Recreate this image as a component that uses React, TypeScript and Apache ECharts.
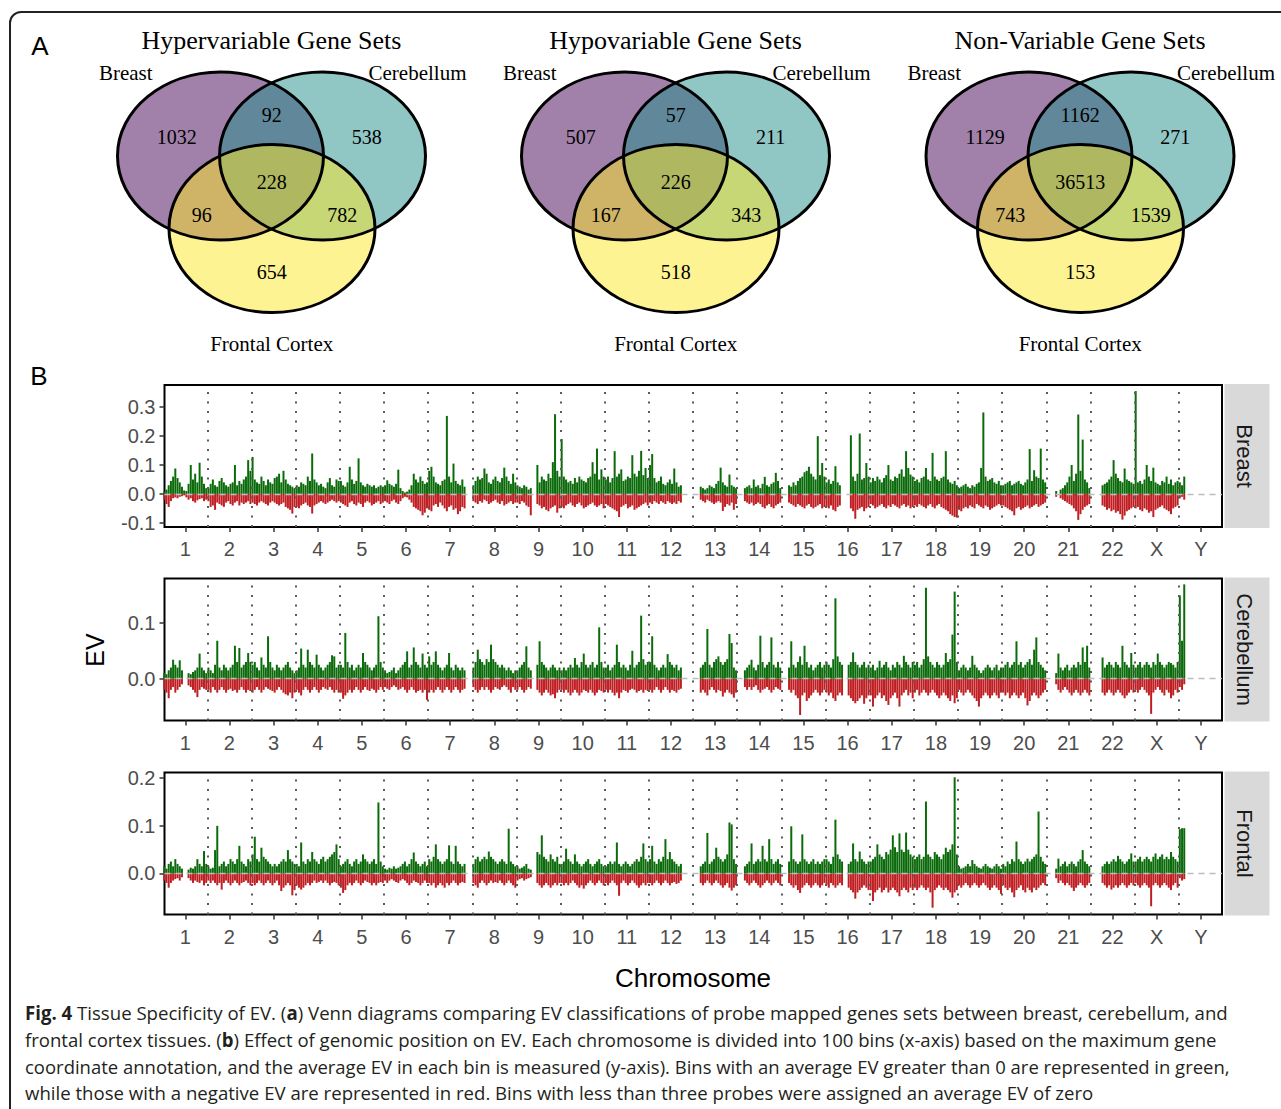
import React, { useEffect, useRef } from "react";
import * as echarts from "echarts";

// ---------------- DATA ----------------
const chromosomes = ["1","2","3","4","5","6","7","8","9","10","11","12","13","14","15","16","17","18","19","20","21","22","X","Y"];
const chromCenters = chromosomes.map((_, i) => i * 100 + 50);
const chromBounds = chromosomes.slice(1).map((_, i) => (i + 1) * 100);

const breastTicks = [-0.1, 0, 0.1, 0.2, 0.3];
const cerebellumTicks = [0, 0.1];
const frontalTicks = [0, 0.1, 0.2];

const vennTitles = ["Hypervariable Gene Sets", "Hypovariable Gene Sets", "Non-Variable Gene Sets"];
const vennSetNames = ["Breast", "Cerebellum", "Frontal Cortex"];
// region order: Breast only, Breast∩Cerebellum, Cerebellum only, all three, Breast∩Frontal, Cerebellum∩Frontal, Frontal only
const hyperCounts = [1032, 92, 538, 228, 96, 782, 654];
const hypoCounts = [507, 57, 211, 226, 167, 343, 518];
const nonVarCounts = [1129, 1162, 271, 36513, 743, 1539, 153];

// Average EV per bin (in thousandths), 20 bins per chromosome: highest positive (green) and lowest negative (red)
const breastGreen = [
  [8,15,30,45,60,88,55,40,25,12,10,35,100,50,70,40,108,60,35,20],
  [20,35,50,30,25,45,55,40,30,25,35,40,100,30,45,35,50,60,117,80],
  [128,50,40,35,60,45,30,50,40,35,55,60,70,40,80,50,35,30,25,20],
  [30,25,40,35,30,60,45,140,50,40,30,35,25,20,40,55,30,25,50,45],
  [45,30,25,40,94,50,35,45,123,40,30,25,35,30,25,30,20,25,30,25],
  [30,47,35,30,25,35,84,20,10,5,8,15,30,70,50,40,60,45,35,40],
  [80,94,60,40,35,30,45,50,270,60,40,105,45,35,30,50,25,0,0,0],
  [30,45,60,50,55,88,70,40,35,50,60,45,40,55,91,60,45,35,70,40],
  [30,25,20,30,25,15,20,0,0,100,40,60,50,45,70,55,110,276,80,60],
  [190,60,50,40,45,35,55,40,60,50,45,40,55,60,110,70,157,50,85,60],
  [50,60,40,55,148,60,70,85,45,50,60,55,134,70,60,80,149,65,90,55],
  [100,138,55,40,45,60,35,30,40,50,35,88,40,25,30,0,0,0,0,0],
  [0,0,0,25,20,15,20,30,25,20,35,45,91,40,30,25,67,30,25,20],
  [0,0,0,20,25,30,20,50,25,30,20,35,59,30,25,35,40,73,45,20],
  [0,0,0,30,25,40,30,45,55,60,75,80,94,70,60,50,200,65,107,60],
  [40,50,35,45,96,40,30,0,0,0,0,203,60,45,70,209,50,55,107,60],
  [40,55,45,60,50,40,55,65,100,50,45,60,55,70,85,60,148,90,67,60],
  [45,50,40,55,60,90,50,45,142,60,50,45,55,60,148,50,40,35,45,30],
  [20,25,30,35,25,20,30,25,35,40,90,282,60,45,50,55,40,35,45,30],
  [30,35,40,45,30,35,40,45,35,30,40,50,155,45,82,60,55,157,50,40],
  [0,0,0,0,10,0,15,20,30,40,60,100,45,70,275,80,188,50,40,20],
  [0,0,0,0,0,30,35,40,50,60,117,70,55,45,40,88,50,45,40,35],
  [356,40,45,35,50,100,60,45,91,40,35,30,45,40,60,35,50,30,40,45],
  [40,30,60],
];
const breastRed = [
  [-20,-35,-45,-25,-15,-12,-15,-10,-8,-5,-12,-20,-15,-25,-30,-22,-18,-15,-25,-20],
  [-25,-45,-40,-55,-30,-35,-40,-45,-30,-25,-35,-40,-30,-25,-40,-30,-35,-30,-25,-35],
  [-30,-35,-40,-30,-25,-30,-35,-40,-30,-25,-30,-35,-40,-35,-30,-45,-50,-55,-68,-45],
  [-45,-50,-40,-35,-30,-40,-45,-68,-40,-35,-30,-25,-30,-35,-30,-25,-20,-25,-30,-25],
  [-30,-35,-40,-45,-30,-25,-35,-40,-30,-35,-45,-30,-25,-30,-40,-35,-30,-25,-35,-30],
  [-25,-30,-35,-25,-20,-30,-35,-25,-15,-10,-12,-20,-30,-45,-50,-55,-60,-74,-65,-50],
  [-55,-60,-40,-35,-45,-30,-40,-50,-60,-45,-40,-55,-50,-70,-60,-45,-50,0,0,0],
  [-25,-30,-35,-25,-30,-20,-25,-35,-30,-25,-20,-30,-35,-25,-40,-35,-30,-25,-35,-30],
  [-30,-35,-25,-30,-40,-45,-74,0,0,-35,-40,-50,-45,-55,-60,-50,-45,-40,-65,-50],
  [-45,-50,-40,-35,-30,-40,-45,-35,-30,-40,-50,-45,-40,-35,-30,-40,-45,-40,-35,-50],
  [-35,-40,-45,-50,-55,-60,-80,-45,-40,-35,-50,-45,-40,-55,-50,-45,-40,-35,-30,-40],
  [-30,-35,-25,-30,-35,-25,-30,-35,-25,-30,-35,-30,-35,-25,-30,0,0,0,0,0],
  [0,0,0,-20,-25,-30,-20,-25,-30,-35,-30,-25,-30,-59,-45,-35,-40,-30,-55,-35],
  [0,0,0,-25,-30,-35,-30,-40,-35,-30,-35,-45,-50,-40,-35,-45,-50,-40,-35,-30],
  [0,0,0,-30,-35,-40,-45,-35,-40,-45,-50,-40,-35,-45,-50,-45,-40,-35,-50,-45],
  [-45,-50,-40,-55,-60,-45,-40,0,0,0,0,-50,-60,-86,-55,-50,-45,-60,-50,-45],
  [-35,-40,-50,-45,-40,-35,-45,-50,-40,-45,-35,-40,-45,-50,-40,-35,-45,-40,-50,-45],
  [-40,-45,-35,-40,-45,-50,-40,-35,-45,-50,-40,-35,-45,-50,-55,-60,-70,-75,-80,-82],
  [-55,-60,-50,-45,-50,-40,-45,-50,-35,-40,-45,-50,-40,-45,-55,-50,-45,-40,-35,-40],
  [-40,-45,-50,-55,-60,-74,-50,-45,-55,-50,-45,-40,-50,-45,-40,-35,-45,-40,-35,-30],
  [0,0,0,0,-10,0,-15,-20,-25,-30,-35,-40,-50,-60,-90,-70,-55,-45,-40,-35],
  [0,0,0,0,0,-40,-45,-55,-50,-60,-55,-65,-60,-70,-89,-75,-60,-55,-50,-45],
  [-50,-45,-55,-60,-50,-55,-65,-60,-80,-55,-50,-45,-40,-50,-55,-60,-70,-50,-45,-40],
  [-15,-10,-20],
];

const cerebellumGreen = [
  [10,8,15,20,34,25,20,33,15,0,0,10,8,12,15,20,45,20,15,10],
  [20,15,10,25,68,20,15,25,20,15,20,25,59,30,55,20,25,30,46,30],
  [25,30,20,15,38,25,20,76,30,20,15,25,20,15,20,25,30,20,15,10],
  [15,20,54,25,20,52,30,25,20,43,25,20,15,20,25,30,42,40,20,25],
  [25,20,82,30,20,25,15,20,25,20,46,30,25,20,15,20,25,112,30,20],
  [15,10,12,15,20,10,15,20,25,30,49,20,25,56,30,25,20,45,25,20],
  [40,25,30,49,25,20,15,20,25,46,20,15,25,20,15,20,15,0,0,0],
  [20,30,52,35,30,25,35,30,61,35,30,25,20,25,20,15,20,15,10,15],
  [15,20,25,30,58,20,15,0,0,25,67,30,25,20,15,20,25,20,15,20],
  [15,20,15,20,25,20,37,25,20,30,45,25,20,25,30,20,25,92,30,20],
  [20,25,15,20,25,61,30,20,25,20,15,25,50,20,25,30,113,35,25,30],
  [30,76,25,20,15,20,25,20,44,30,25,20,25,15,20,0,0,0,0,0],
  [0,0,0,20,25,30,89,25,20,30,35,40,30,25,30,35,80,64,20,15],
  [0,0,0,15,20,25,34,20,15,25,77,30,20,25,30,74,25,20,30,20],
  [0,0,0,20,67,25,20,30,40,25,59,30,20,25,15,20,25,30,20,25],
  [30,25,20,35,144,40,30,25,0,0,25,30,47,30,25,20,25,30,20,25],
  [20,25,15,20,32,20,25,30,20,15,25,20,30,25,20,41,30,25,20,30],
  [25,30,20,25,35,163,40,30,25,20,30,25,20,25,46,30,35,79,156,30],
  [15,20,25,20,15,20,41,25,20,15,10,15,20,25,20,15,20,25,15,20],
  [20,25,30,20,25,30,67,25,30,20,25,30,35,25,52,74,30,25,20,15],
  [0,0,0,0,10,45,20,15,20,25,15,20,25,20,30,25,56,30,59,20],
  [0,0,0,0,0,38,20,25,30,25,20,30,25,20,59,30,25,20,46,25],
  [20,25,30,20,25,30,25,20,30,25,45,30,25,20,25,30,28,25,20,30],
  [149,68,169],
];
const cerebellumRed = [
  [-20,-25,-35,-20,-15,-25,-20,-15,-10,0,0,-12,-15,-20,-25,-33,-20,-15,-18,-20],
  [-20,-25,-15,-20,-25,-20,-15,-20,-25,-20,-18,-22,-20,-25,-20,-15,-20,-25,-20,-22],
  [-25,-20,-15,-20,-25,-20,-15,-18,-20,-22,-25,-20,-15,-20,-25,-28,-30,-25,-35,-25],
  [-20,-25,-30,-20,-15,-20,-25,-20,-15,-20,-25,-20,-15,-18,-20,-15,-20,-25,-20,-25],
  [-25,-36,-30,-25,-20,-25,-20,-15,-20,-25,-20,-15,-20,-22,-18,-20,-25,-20,-15,-20],
  [-15,-18,-20,-15,-12,-15,-20,-18,-15,-20,-25,-20,-15,-20,-25,-22,-20,-25,-20,-38],
  [-25,-20,-25,-20,-15,-20,-25,-20,-15,-20,-25,-20,-15,-20,-25,-20,-18,0,0,0],
  [-15,-20,-25,-20,-15,-20,-15,-20,-25,-20,-15,-18,-20,-15,-12,-15,-20,-25,-15,-20],
  [-20,-15,-20,-25,-20,-15,-18,0,0,-20,-25,-30,-25,-20,-25,-30,-28,-35,-25,-20],
  [-20,-25,-20,-25,-30,-25,-20,-25,-30,-25,-20,-22,-25,-20,-25,-30,-25,-20,-22,-25],
  [-20,-25,-20,-25,-30,-25,-35,-25,-20,-22,-25,-20,-18,-20,-25,-22,-20,-25,-20,-22],
  [-20,-25,-20,-15,-20,-25,-20,-15,-20,-25,-20,-22,-25,-20,-18,0,0,0,0,0],
  [0,0,0,-25,-20,-25,-30,-20,-15,-20,-25,-20,-22,-32,-25,-20,-25,-28,-34,-25],
  [0,0,0,-15,-20,-15,-20,-15,-12,-20,-25,-20,-18,-15,-20,-25,-20,-15,-18,-20],
  [0,0,0,-20,-25,-20,-30,-35,-65,-30,-25,-40,-35,-30,-25,-20,-25,-30,-25,-20],
  [-25,-30,-25,-35,-40,-30,-25,-30,0,0,-30,-35,-40,-44,-40,-35,-30,-45,-35,-30],
  [-30,-50,-35,-30,-25,-35,-30,-40,-47,-35,-30,-25,-35,-50,-30,-25,-20,-30,-25,-35],
  [-25,-20,-30,-25,-20,-25,-30,-25,-20,-25,-30,-35,-30,-25,-30,-35,-40,-30,-44,-35],
  [-20,-25,-30,-25,-20,-25,-30,-35,-40,-50,-35,-30,-25,-30,-35,-30,-25,-30,-35,-25],
  [-25,-30,-25,-35,-30,-25,-30,-35,-30,-25,-35,-48,-40,-30,-25,-30,-35,-30,-25,-20],
  [0,0,0,0,-10,-20,-25,-20,-15,-20,-25,-30,-25,-20,-25,-30,-25,-20,-25,-30],
  [0,0,0,0,0,-25,-30,-25,-20,-25,-30,-25,-20,-25,-30,-35,-30,-25,-20,-25],
  [-20,-25,-20,-15,-20,-25,-30,-63,-25,-20,-15,-20,-25,-30,-20,-25,-35,-30,-20,-25],
  [-15,-20,-10],
];

const frontalGreen = [
  [15,10,20,25,15,30,20,15,10,0,0,8,12,10,15,30,20,15,47,20],
  [15,10,12,49,100,15,20,25,15,20,30,25,20,30,58,25,20,15,30,25],
  [40,77,30,25,54,35,30,25,20,15,20,15,20,25,30,25,49,30,25,20],
  [20,15,65,25,20,30,25,45,30,25,20,30,35,25,30,35,40,45,61,30],
  [15,20,25,30,20,15,25,30,20,25,40,30,25,20,25,30,20,149,25,15],
  [10,8,12,10,15,10,12,15,20,25,15,20,30,44,25,20,15,20,25,15],
  [30,25,35,61,30,25,20,25,30,59,25,20,58,25,20,15,20,0,0,0],
  [20,30,35,25,30,35,30,46,35,30,25,20,25,30,25,20,94,25,20,15],
  [15,10,12,15,20,10,8,0,0,45,40,80,35,30,25,40,30,25,35,20],
  [20,25,52,30,25,20,40,25,20,15,20,25,30,20,15,20,25,30,20,15],
  [15,20,25,20,25,65,20,15,20,25,20,15,20,25,30,25,35,63,30,25],
  [30,58,25,20,30,25,35,72,30,45,30,25,20,15,20,0,0,0,0,0],
  [0,0,0,15,20,25,85,20,25,30,54,35,30,25,30,40,107,103,30,20],
  [0,0,0,15,20,25,63,20,25,30,25,58,30,25,72,30,20,25,30,20],
  [0,0,0,25,99,30,25,20,25,82,30,25,20,25,30,20,25,20,25,30],
  [30,25,20,35,113,40,30,25,0,0,20,25,63,30,25,46,30,25,20,25],
  [25,30,35,61,40,35,30,45,40,50,80,55,45,84,50,45,86,50,40,35],
  [30,35,40,30,35,151,40,35,30,45,40,35,30,40,54,45,50,61,202,40],
  [15,10,12,15,20,15,28,20,15,12,10,15,20,15,12,10,15,20,15,10],
  [20,15,25,20,30,25,67,30,25,20,25,31,25,30,35,40,130,35,25,20],
  [0,0,0,0,10,31,15,20,25,15,20,25,20,15,25,30,49,25,20,15],
  [0,0,0,0,0,15,20,25,20,25,30,25,37,30,25,20,25,30,42,25],
  [25,30,35,25,30,35,30,25,35,42,30,35,40,30,35,30,45,35,30,25],
  [93,95,95],
];
const frontalRed = [
  [-15,-20,-30,-20,-15,-12,-10,-15,-8,0,0,-10,-15,-20,-15,-18,-20,-15,-25,-20],
  [-15,-20,-15,-20,-25,-20,-34,-20,-15,-20,-25,-20,-15,-20,-25,-20,-18,-15,-20,-25],
  [-20,-25,-20,-15,-20,-25,-20,-15,-20,-25,-20,-15,-25,-37,-30,-25,-20,-25,-46,-35],
  [-25,-30,-34,-30,-25,-20,-25,-20,-15,-20,-18,-15,-20,-15,-20,-25,-20,-18,-20,-25],
  [-30,-41,-35,-25,-20,-25,-20,-15,-20,-25,-20,-15,-18,-20,-25,-20,-25,-20,-18,-20],
  [-15,-20,-15,-12,-15,-18,-20,-15,-12,-15,-20,-25,-20,-15,-18,-20,-25,-20,-15,-20],
  [-20,-25,-20,-30,-25,-20,-25,-30,-20,-25,-20,-15,-20,-25,-20,-18,-20,0,0,0],
  [-20,-25,-30,-20,-15,-20,-25,-20,-15,-20,-18,-20,-15,-20,-25,-20,-15,-20,-25,-30],
  [-15,-12,-10,-15,-12,-10,-8,0,0,-20,-25,-30,-25,-20,-25,-30,-25,-20,-25,-20],
  [-20,-25,-20,-25,-20,-15,-20,-25,-30,-25,-32,-25,-20,-15,-20,-25,-20,-15,-20,-25],
  [-20,-25,-20,-15,-20,-25,-47,-20,-15,-20,-25,-20,-15,-20,-25,-30,-25,-20,-25,-20],
  [-20,-25,-20,-15,-20,-25,-20,-15,-20,-25,-20,-18,-22,-20,-15,0,0,0,0,0],
  [0,0,0,-20,-25,-20,-15,-20,-25,-20,-15,-20,-25,-30,-25,-20,-30,-36,-30,-25],
  [0,0,0,-15,-20,-25,-20,-15,-20,-25,-30,-25,-20,-15,-20,-25,-20,-15,-20,-25],
  [0,0,0,-20,-25,-30,-25,-35,-41,-30,-25,-20,-25,-30,-25,-20,-25,-30,-25,-20],
  [-25,-30,-20,-25,-30,-25,-20,-25,0,0,-30,-35,-40,-53,-40,-35,-30,-25,-30,-35],
  [-35,-58,-40,-35,-30,-40,-35,-30,-40,-35,-30,-35,-40,-48,-35,-30,-35,-40,-30,-35],
  [-30,-35,-30,-25,-30,-35,-30,-40,-72,-35,-30,-25,-30,-35,-30,-35,-40,-51,-40,-35],
  [-25,-30,-25,-20,-25,-30,-25,-20,-25,-30,-25,-20,-25,-30,-35,-30,-25,-30,-35,-43],
  [-25,-30,-35,-30,-40,-50,-35,-30,-25,-35,-40,-30,-35,-40,-30,-35,-30,-25,-20,-25],
  [0,0,0,0,-10,-20,-15,-20,-25,-20,-25,-30,-37,-30,-25,-20,-25,-30,-25,-20],
  [0,0,0,0,0,-20,-25,-30,-25,-34,-30,-25,-30,-25,-20,-25,-30,-25,-20,-25],
  [-20,-25,-30,-25,-20,-25,-30,-69,-25,-20,-25,-30,-25,-20,-25,-30,-35,-25,-20,-30],
  [-10,-15,-12],
];

const captionLines: [string, boolean][][] = [
  [["Fig. 4", true], [" Tissue Specificity of EV. (", false], ["a", true], [") Venn diagrams comparing EV classifications of probe mapped genes sets between breast, cerebellum, and", false]],
  [["frontal cortex tissues. (", false], ["b", true], [") Effect of genomic position on EV. Each chromosome is divided into 100 bins (x-axis) based on the maximum gene", false]],
  [["coordinate annotation, and the average EV in each bin is measured (y-axis). Bins with an average EV greater than 0 are represented in green,", false]],
  [["while those with a negative EV are represented in red. Bins with less than three probes were assigned an average EV of zero", false]],
];

// ---------------- LAYOUT / STYLE ----------------
const SANS = '"Liberation Sans", Arial, Helvetica, sans-serif';
const SERIF = '"Liberation Serif", "Times New Roman", serif';
const CAP_FONT = '"Open Sans", "Noto Sans", sans-serif';
const GREEN = "#0B6B0B";
const RED = "#BF1E22";

const panels = [
  { name: "Breast", green: breastGreen, red: breastRed, ticks: breastTicks, min: -0.1145, max: 0.377, top: 385 },
  { name: "Cerebellum", green: cerebellumGreen, red: cerebellumRed, ticks: cerebellumTicks, min: -0.0749, max: 0.1795, top: 578.5 },
  { name: "Frontal", green: frontalGreen, red: frontalRed, ticks: frontalTicks, min: -0.0863, max: 0.212, top: 772.5 },
];
const PANEL_LEFT = 164.5;
const PANEL_W = 1057.5;
const PANEL_H = 142;

function toBars(rows: number[][], shift: number): [number, number][] {
  const out: [number, number][] = [];
  rows.forEach((row, c) =>
    row.forEach((v, j) => {
      if (v !== 0) out.push([c * 100 + j * 5 + shift, v / 1000]);
    })
  );
  return out;
}

let measureCtx: CanvasRenderingContext2D | null = null;
function measure(text: string, font: string): number {
  if (!measureCtx) measureCtx = document.createElement("canvas").getContext("2d");
  if (!measureCtx) return text.length * 9;
  measureCtx.font = font;
  return measureCtx.measureText(text).width;
}

function vennGraphics(dx: number, title: string, counts: number[]): any[] {
  const ellipses = [
    { cx: 220.5, cy: 156, fill: "rgba(68,1,84,0.5)" },
    { cx: 322.5, cy: 156, fill: "rgba(33,144,140,0.5)" },
    { cx: 272, cy: 228.5, fill: "rgba(253,231,37,0.5)" },
  ];
  const regionPos = [
    [176.7, 136.7], [271.7, 115], [366.7, 137], [271.7, 181.7], [201.7, 215], [342.3, 215], [271.7, 271.7],
  ];
  const els: any[] = [];
  ellipses.forEach((e) =>
    els.push({ type: "ellipse", shape: { cx: e.cx + dx, cy: e.cy, rx: 103, ry: 84 }, style: { fill: e.fill }, silent: true })
  );
  ellipses.forEach((e) =>
    els.push({ type: "ellipse", shape: { cx: e.cx + dx, cy: e.cy, rx: 103, ry: 84 }, style: { fill: "none", stroke: "#000", lineWidth: 3 }, silent: true })
  );
  const txt = (x: number, y: number, text: string, size: number) => ({
    type: "text",
    x,
    y,
    silent: true,
    style: { text, fill: "#000", font: `${size}px ${SERIF}`, fontSize: size, fontFamily: SERIF, align: "center", verticalAlign: "middle", textAlign: "center", textVerticalAlign: "middle" },
  });
  els.push(txt(271.5 + dx, 40, title, 26));
  els.push(txt(125.8 + dx, 72.5, vennSetNames[0], 21));
  els.push(txt(417.5 + dx, 72.5, vennSetNames[1], 21));
  els.push(txt(271.7 + dx, 343.5, vennSetNames[2], 21));
  counts.forEach((c, i) => els.push(txt(regionPos[i][0] + dx, regionPos[i][1], String(c), 20)));
  return els;
}

export default function App() {
  const ref = useRef<HTMLDivElement>(null);
  useEffect(() => {
    if (!ref.current) return;
    const chart = echarts.init(ref.current, null, { renderer: "svg" });

    const grids: any[] = [];
    const xAxes: any[] = [];
    const yAxes: any[] = [];
    const series: any[] = [];
    const graphics: any[] = [];

    panels.forEach((p, i) => {
      grids.push({
        left: PANEL_LEFT, top: p.top, width: PANEL_W, height: PANEL_H,
        show: true, borderColor: "#000", borderWidth: 2, backgroundColor: "#fff",
        containLabel: false, outerBoundsMode: "none",
      });
      xAxes.push({
        type: "value", gridIndex: i, min: 3, max: 2398, position: "bottom",
        axisLine: { show: false, onZero: false },
        axisTick: { show: true, customValues: chromCenters, length: 5, lineStyle: { color: "#333", width: 1.5 } },
        axisLabel: {
          show: true, customValues: chromCenters, margin: 12, fontSize: 20, color: "#4D4D4D", fontFamily: SANS,
          formatter: (v: number) => chromosomes[Math.round((v - 50) / 100)] ?? "",
        },
        splitLine: { show: false },
      });
      yAxes.push({
        type: "value", gridIndex: i, min: p.min, max: p.max, position: "left",
        axisLine: { show: false, onZero: false },
        axisTick: { show: true, customValues: p.ticks, length: 5, lineStyle: { color: "#333", width: 1.5 } },
        axisLabel: {
          show: true, customValues: p.ticks, margin: 9, fontSize: 20, color: "#4D4D4D", fontFamily: SANS,
          formatter: (v: number) => v.toFixed(1),
        },
        splitLine: { show: false },
      });
      series.push({
        type: "bar", xAxisIndex: i, yAxisIndex: i, data: toBars(p.red, 2.5), barWidth: 2, barGap: "-100%",
        itemStyle: { color: RED }, silent: true, z: 2,
        markLine: {
          silent: true, symbol: ["none", "none"], label: { show: false },
          lineStyle: { type: [6, 5], color: "#BDBDBD", width: 1.3 },
          data: [{ yAxis: 0 }],
        },
      });
      series.push({
        type: "bar", xAxisIndex: i, yAxisIndex: i, data: toBars(p.green, 2.5), barWidth: 2, barGap: "-100%",
        itemStyle: { color: GREEN }, silent: true, z: 3,
        markLine: {
          silent: true, symbol: ["none", "none"], label: { show: false },
          lineStyle: { type: [2, 7.5], color: "#5A5A5A", width: 2 },
          data: chromBounds.map((b) => ({ xAxis: b })),
        },
      });
      // facet strip
      graphics.push({ type: "rect", shape: { x: 1224.5, y: p.top - 1, width: 45, height: PANEL_H + 2 }, style: { fill: "#D9D9D9" }, silent: true });
      graphics.push({
        type: "text", x: 1244, y: p.top + PANEL_H / 2, rotation: -Math.PI / 2, silent: true,
        style: { text: p.name, fill: "#1A1A1A", font: `22px ${SANS}`, fontSize: 22, fontFamily: SANS, align: "center", verticalAlign: "middle", textAlign: "center", textVerticalAlign: "middle" },
      });
    });

    // Venn diagrams
    graphics.push(...vennGraphics(0, vennTitles[0], hyperCounts));
    graphics.push(...vennGraphics(404, vennTitles[1], hypoCounts));
    graphics.push(...vennGraphics(808.5, vennTitles[2], nonVarCounts));

    const plainText = (x: number, y: number, text: string, size: number, rot = 0, color = "#000", align = "center") => ({
      type: "text", x, y, rotation: rot, silent: true,
      style: { text, fill: color, font: `${size}px ${SANS}`, fontSize: size, fontFamily: SANS, align, verticalAlign: "middle", textAlign: align, textVerticalAlign: "middle" },
    });
    graphics.push(plainText(40, 46, "A", 26));
    graphics.push(plainText(39, 376, "B", 26));
    graphics.push(plainText(95, 650, "EV", 25, Math.PI / 2));
    graphics.push(plainText(693, 978, "Chromosome", 26));

    // outer rounded frame
    graphics.push({ type: "rect", shape: { x: 10, y: 12, width: 1320, height: 1140, r: 11 }, style: { fill: "none", stroke: "#222", lineWidth: 2 }, silent: true });

    // caption
    const capTargets = [1203, 1192, 1205, 1068];
    const capY = [1013, 1039.5, 1066, 1092.5];
    const capSize = 19;
    captionLines.forEach((segs, li) => {
      let w = 0;
      segs.forEach(([t, b]) => { w += measure(t, `${b ? "bold " : ""}${capSize}px ${CAP_FONT}`); });
      const sx = w > 0 ? capTargets[li] / w : 1;
      const text = segs.map(([t, b]) => (b ? `{b|${t}}` : t)).join("");
      graphics.push({
        type: "text", x: 25, y: capY[li], scaleX: sx, scaleY: 1, silent: true,
        style: {
          text, fill: "#231F20", font: `${capSize}px ${CAP_FONT}`, fontSize: capSize, fontFamily: CAP_FONT,
          align: "left", verticalAlign: "middle", textAlign: "left", textVerticalAlign: "middle",
          rich: { b: { fontWeight: "bold", fontSize: capSize, fontFamily: CAP_FONT, fill: "#231F20", verticalAlign: "middle" } },
        },
      });
    });

    chart.setOption({
      animation: false,
      backgroundColor: "#fff",
      grid: grids,
      xAxis: xAxes,
      yAxis: yAxes,
      series,
      graphic: { elements: graphics },
    });
    return () => chart.dispose();
  }, []);
  return <div ref={ref} style={{ position: "absolute", left: 0, top: 0, width: 1281, height: 1109, background: "#fff" }} />;
}
